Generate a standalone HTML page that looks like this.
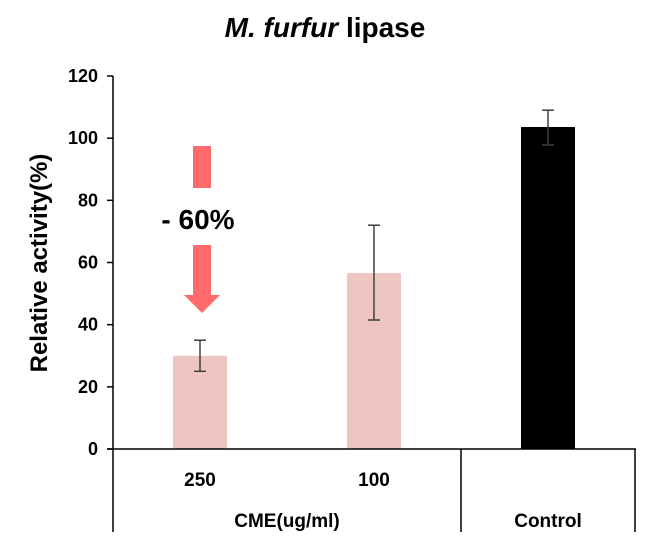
<!DOCTYPE html>
<html><head><meta charset="utf-8"><style>
body{margin:0;background:#fff}
svg text{font-family:"Liberation Sans",Arial,sans-serif;font-weight:bold;fill:#000}
</style></head><body>
<svg id="chart" width="650" height="550">
<text x="325" y="37" text-anchor="middle" font-size="28"><tspan font-style="italic">M. furfur</tspan> lipase</text>
<text transform="translate(47,263) rotate(-90)" text-anchor="middle" font-size="24">Relative activity(%)</text>
<g id="yaxis"></g>
<g id="bars"></g>
<g stroke="#000" stroke-width="1.5">
<line x1="107" y1="449" x2="636" y2="449"/>
<line x1="113" y1="449" x2="113" y2="532"/>
<line x1="461" y1="449" x2="461" y2="532"/>
<line x1="635" y1="449" x2="635" y2="532"/>
</g>
<text x="200" y="486" text-anchor="middle" font-size="19">250</text>
<text x="374" y="486" text-anchor="middle" font-size="19">100</text>
<text x="287" y="527" text-anchor="middle" font-size="19">CME(ug/ml)</text>
<text x="548" y="527" text-anchor="middle" font-size="19">Control</text>
<g fill="#ff6b6b">
<rect x="193" y="146" width="18" height="42"/>
<polygon points="193,245 211,245 211,295 220,295 202,313 184,295 193,295"/>
</g>
<text x="198" y="229" text-anchor="middle" font-size="28">- 60%</text>
</svg>
<script>
const categories=["250","100","Control"];
const values=[30,56.6,103.6];
const errLow=[25,41.5,97.8];
const errHigh=[35,72,109];
const colors=["#efc5c2","#efc5c2","#000000"];
const yTicks=[0,20,40,60,80,100,120];
const NS="http://www.w3.org/2000/svg";
const y=v=>449-v*(373/120);
const xc=i=>200+i*174;
const ya=document.getElementById('yaxis');
function mk(t,a,p){const e=document.createElementNS(NS,t);for(const k in a)e.setAttribute(k,a[k]);p.appendChild(e);return e;}
mk('line',{x1:113,y1:y(120),x2:113,y2:449,stroke:'#000','stroke-width':1.5},ya);
yTicks.forEach(t=>{
  const l=mk('line',{x1:107,y1:y(t),x2:113,y2:y(t),stroke:'#000','stroke-width':1.5},ya);
  
  
  const tx=mk('text',{x:98,y:y(t)+6,'text-anchor':'end','font-size':18},ya);
  tx.textContent=t;
  
  
});
const bg=document.getElementById('bars');
categories.forEach((c,i)=>{
  const r=mk('rect',{x:xc(i)-27,y:y(values[i]),width:54,height:449-y(values[i]),fill:colors[i]},bg);
  
  
  const g=mk('g',{stroke:'#404040','stroke-width':1.5},bg);
  
  
  mk('line',{x1:xc(i),y1:y(errHigh[i]),x2:xc(i),y2:y(errLow[i])},g);
  mk('line',{x1:xc(i)-6,y1:y(errHigh[i]),x2:xc(i)+6,y2:y(errHigh[i])},g);
  mk('line',{x1:xc(i)-6,y1:y(errLow[i]),x2:xc(i)+6,y2:y(errLow[i])},g);
});
</script>
</body></html>
